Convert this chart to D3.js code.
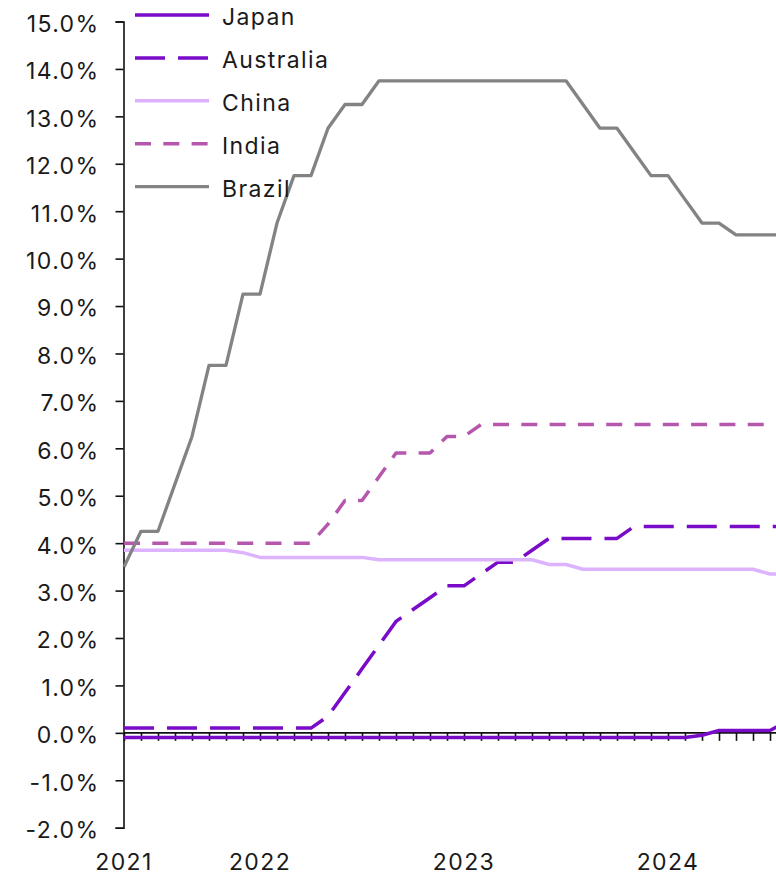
<!DOCTYPE html>
<html><head><meta charset="utf-8">
<script src="https://cdn.jsdelivr.net/npm/d3@7"></script>
<style>
html,body{margin:0;padding:0;background:#fff;}
svg{display:block;}
text{font-family:Inter,"Noto Sans",sans-serif;fill:#1a1a1a;letter-spacing:1.4px;}
</style></head><body>
<svg id="c" width="776" height="877"></svg>
<script>
const months = ["2021-05","2021-06","2021-07","2021-08","2021-09","2021-10","2021-11","2021-12",
"2022-01","2022-02","2022-03","2022-04","2022-05","2022-06","2022-07","2022-08","2022-09","2022-10","2022-11","2022-12",
"2023-01","2023-02","2023-03","2023-04","2023-05","2023-06","2023-07","2023-08","2023-09","2023-10","2023-11","2023-12",
"2024-01","2024-02","2024-03","2024-04","2024-05","2024-06","2024-07","2024-08"];
const japan = [-0.1,-0.1,-0.1,-0.1,-0.1,-0.1,-0.1,-0.1,-0.1,-0.1,-0.1,-0.1,-0.1,-0.1,-0.1,-0.1,-0.1,-0.1,-0.1,-0.1,
-0.1,-0.1,-0.1,-0.1,-0.1,-0.1,-0.1,-0.1,-0.1,-0.1,-0.1,-0.1,-0.1,-0.1,-0.05,0.05,0.05,0.05,0.05,0.25];
const australia = [0.1,0.1,0.1,0.1,0.1,0.1,0.1,0.1,0.1,0.1,0.1,0.1,0.35,0.85,1.35,1.85,2.35,2.6,2.85,3.1,
3.1,3.35,3.6,3.6,3.85,4.1,4.1,4.1,4.1,4.1,4.35,4.35,4.35,4.35,4.35,4.35,4.35,4.35,4.35,4.35];
const china = [3.85,3.85,3.85,3.85,3.85,3.85,3.85,3.8,3.7,3.7,3.7,3.7,3.7,3.7,3.7,3.65,3.65,3.65,3.65,3.65,
3.65,3.65,3.65,3.65,3.65,3.55,3.55,3.45,3.45,3.45,3.45,3.45,3.45,3.45,3.45,3.45,3.45,3.45,3.35,3.35];
const india = [4.0,4.0,4.0,4.0,4.0,4.0,4.0,4.0,4.0,4.0,4.0,4.0,4.4,4.9,4.9,5.4,5.9,5.9,5.9,6.25,
6.25,6.5,6.5,6.5,6.5,6.5,6.5,6.5,6.5,6.5,6.5,6.5,6.5,6.5,6.5,6.5,6.5,6.5,6.5,6.5];
const brazil = [3.5,4.25,4.25,5.25,6.25,7.75,7.75,9.25,9.25,10.75,11.75,11.75,12.75,13.25,13.25,13.75,13.75,13.75,13.75,13.75,
13.75,13.75,13.75,13.75,13.75,13.75,13.75,13.25,12.75,12.75,12.25,11.75,11.75,11.25,10.75,10.75,10.5,10.5,10.5,10.5];
const seriesNames = ["Japan","Australia","China","India","Brazil"];
const yTicks = [-2,-1,0,1,2,3,4,5,6,7,8,9,10,11,12,13,14,15];
const yearTickIndex = [0,8,20,32];
const yearLabels = ["2021","2022","2023","2024"];

const series = [
  {name:seriesNames[0], values:japan, color:"#7a0bc8", dash:null, w:3.5},
  {name:seriesNames[1], values:australia, color:"#7a0bc8", dash:"30,13", w:3.5},
  {name:seriesNames[2], values:china, color:"#ddb3fd", dash:null, w:3.5},
  {name:seriesNames[3], values:india, color:"#b657ae", dash:"16,12.3", w:3.5},
  {name:seriesNames[4], values:brazil, color:"#838383", dash:null, w:3.3}
];

const svg = d3.select("#c");
const x = d3.scaleLinear().domain([0,38]).range([124,770]);
const y = d3.scaleLinear().domain([-2,15]).range([827.7,21.5]);

// y axis
const yAxis = d3.axisLeft(y).tickValues(yTicks).tickSize(8).tickPadding(16)
  .tickFormat(d => d.toFixed(1) + "%");
const gy = svg.append("g").attr("transform","translate(123.5,0)").call(yAxis);
gy.select(".domain").attr("stroke","#111").attr("stroke-width",1.6);
gy.selectAll(".tick line").attr("stroke","#111").attr("stroke-width",1.6);
gy.selectAll(".tick text").attr("dy","0.43em").style("font-family","Inter,'Noto Sans',sans-serif").style("font-size","23px").style("letter-spacing","1.4px").attr("fill","#1a1a1a");

// x axis at zero
const gx = svg.append("g").attr("transform",`translate(0,${y(0)})`)
  .call(d3.axisBottom(x).tickValues(d3.range(0,months.length)).tickSize(8).tickFormat(""));
gx.select(".domain").attr("d",`M${x(0)},0H${x(months.length-1)+20}`).attr("stroke","#111").attr("stroke-width",1.6);
gx.selectAll(".tick line").attr("stroke","#111").attr("stroke-width",1.6);

// year labels
svg.append("g").selectAll("text").data(yearTickIndex).join("text")
  .attr("x", d => x(d)).attr("y", 870).attr("text-anchor","middle")
  .style("font-size","23px").text((d,i) => yearLabels[i]);

// lines
const line = d3.line().x((d,i) => x(i)).y(d => y(d)).curve(d3.curveLinear);
series.forEach(s => {
  svg.append("path").datum(s.values).attr("d", line)
    .attr("fill","none").attr("stroke", s.color).attr("stroke-width", s.w)
    .attr("stroke-linejoin","round")
    .attr("stroke-dasharray", s.dash);
});

// legend
const lg = svg.append("g");
series.forEach((s,i) => {
  const ly = 15 + i*42.9;
  lg.append("line").attr("x1",135).attr("x2",209).attr("y1",ly).attr("y2",ly)
    .attr("stroke", s.color).attr("stroke-width", s.w).attr("stroke-dasharray", s.dash);
  lg.append("text").attr("x",222).attr("y",ly).attr("dy","0.45em")
    .style("font-size","23px").text(s.name);
});
</script>
</body></html>
